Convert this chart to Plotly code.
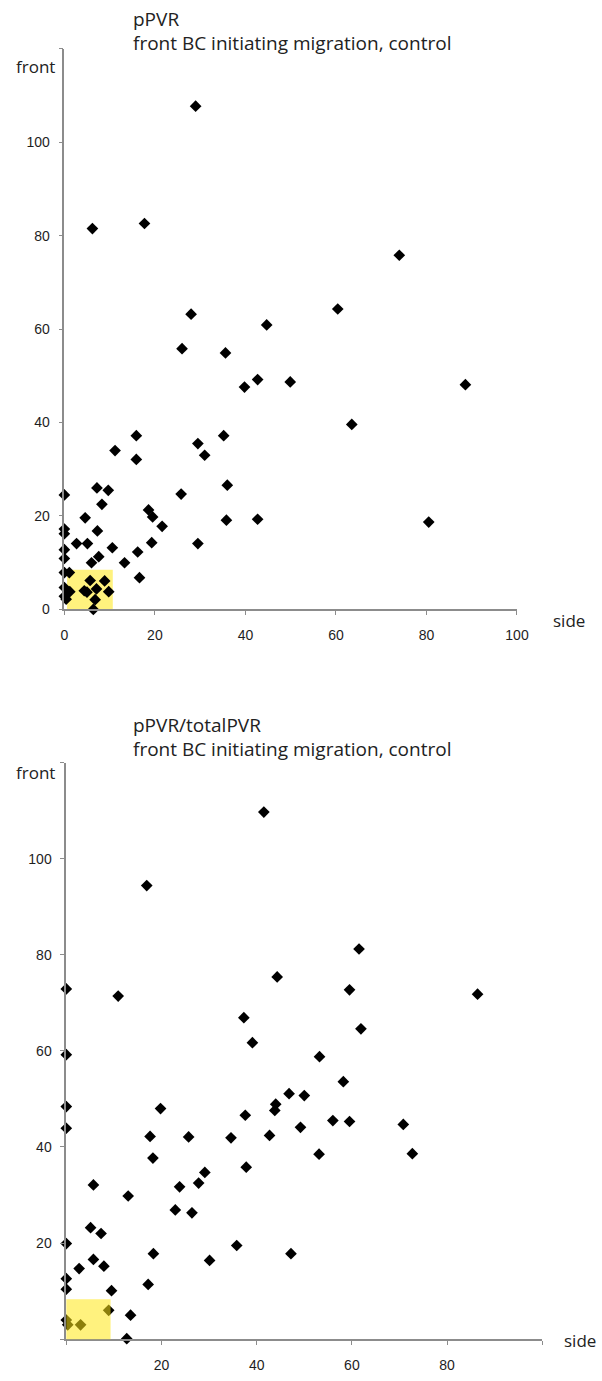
import plotly.graph_objects as go

# ---- Data: chart 1 (pPVR) ----
side_1 = [29.0, 6.2, 17.7, 28.0, 74.0, 60.4, 44.7, 26.0, 35.6, 42.7, 39.8, 49.9, 88.6, 63.5, 80.5,
          15.9, 35.2, 11.2, 29.5, 15.9, 31.0, 25.8, 36.0, 0.0, 7.2, 9.7, 8.3, 4.6, 18.6, 19.5,
          35.8, 42.7, 0.0, 0.0, 7.3, 21.6, 2.7, 5.1, 19.3, 29.5, 0.0, 10.6, 16.2, 7.6, 0.0,
          6.0, 13.3, 0.0, 1.1, 16.6, 5.7, 8.9, 0.0, 4.4, 7.1, 1.2, 9.8, 5.0, 0.0, 0.4, 6.8, 6.4]
front_1 = [107.7, 81.5, 82.6, 63.2, 75.8, 64.3, 60.9, 55.8, 54.9, 49.2, 47.6, 48.7, 48.1, 39.6, 18.7,
           37.2, 37.2, 34.0, 35.5, 32.1, 33.0, 24.7, 26.6, 24.5, 26.0, 25.5, 22.5, 19.6, 21.3, 19.8,
           19.1, 19.3, 17.2, 16.2, 16.8, 17.8, 14.1, 14.1, 14.3, 14.1, 12.8, 13.2, 12.3, 11.3, 10.9,
           10.0, 10.0, 7.9, 7.9, 6.8, 6.2, 6.1, 4.7, 4.0, 4.4, 3.8, 3.8, 3.7, 2.8, 2.2, 2.1, 0.0]

# ---- Data: chart 2 (pPVR/totalPVR) ----
side_2 = [41.5, 16.9, 44.3, 0.0, 10.9, 61.5, 59.5, 86.4, 37.3, 39.1, 0.0, 46.8, 0.0, 44.0, 43.8,
          19.8, 37.6, 0.0, 17.6, 25.7, 34.6, 42.7, 18.2, 37.8, 29.1, 27.8, 23.8, 5.7, 13.0, 22.9,
          26.4, 5.1, 7.3, 0.0, 35.8, 18.3, 47.2, 5.7, 30.1, 7.9, 2.7, 0.0, 17.2, 0.0, 9.5,
          8.9, 13.5, 0.0, 0.3, 3.0, 12.7, 61.9, 53.2, 58.2, 50.0, 56.0, 59.5, 49.2, 70.8, 53.1, 72.7]
front_2 = [109.7, 94.4, 75.4, 72.9, 71.4, 81.2, 72.7, 71.8, 66.9, 61.7, 59.2, 51.1, 48.4, 48.9, 47.6,
           48.0, 46.6, 43.9, 42.2, 42.1, 41.9, 42.4, 37.7, 35.8, 34.7, 32.5, 31.7, 32.1, 29.8, 26.9,
           26.3, 23.2, 22.0, 19.9, 19.5, 17.8, 17.8, 16.6, 16.4, 15.2, 14.7, 12.6, 11.4, 10.4, 10.1,
           6.0, 5.0, 4.0, 3.0, 3.0, 0.1, 64.6, 58.8, 53.6, 50.7, 45.5, 45.3, 44.1, 44.7, 38.5, 38.6]

tick_vals = [0, 20, 40, 60, 80, 100, 120]
x1_text = ["0", "20", "40", "60", "80", "100"]
y1_text = ["0", "20", "40", "60", "80", "100", ""]
x2_text = ["", "20", "40", "60", "80", ""]
y2_text = ["", "20", "40", "60", "80", "100", ""]

titles_1 = ["pPVR", "front BC initiating migration, control"]
titles_2 = ["pPVR/totalPVR", "front BC initiating migration, control"]

W, H = 602, 1381
AX = "#8c8c8c"
TICKFONT = dict(family="Liberation Sans, Arial", size=14, color="#1e1e1e")
TITLEFONT = dict(family="Open Sans", size=19, color="#222222")
LABELFONT = dict(family="Open Sans", size=17, color="#222222")

def px_x(p):
    return p / W

def px_y(p):
    return 1 - p / H

fig = go.Figure()
marker = dict(symbol="diamond", size=9, color="black", line=dict(width=0))
fig.add_trace(go.Scatter(x=side_1, y=front_1, mode="markers", marker=marker,
                         xaxis="x", yaxis="y", cliponaxis=False))
fig.add_trace(go.Scatter(x=side_2, y=front_2, mode="markers", marker=marker,
                         xaxis="x2", yaxis="y2", cliponaxis=False))

axis_common = dict(showgrid=False, zeroline=False, showline=True, linecolor=AX, linewidth=1.6,
                   ticks="outside", ticklen=4, tickwidth=1.2, tickcolor=AX, tickfont=TICKFONT,
                   tickmode="array", fixedrange=True)

fig.update_layout(
    width=W, height=H, margin=dict(l=0, r=0, t=0, b=0),
    paper_bgcolor="white", plot_bgcolor="white", showlegend=False,
    xaxis=dict(domain=[px_x(62), px_x(527)], range=[0, 100], anchor="y",
               tickvals=tick_vals[:6], ticktext=x1_text, ticklabelstandoff=8, **axis_common),
    yaxis=dict(domain=[px_y(613), px_y(49)], range=[0, 120], anchor="x",
               tickvals=tick_vals, ticktext=y1_text, ticklabelstandoff=6, **axis_common),
    xaxis2=dict(domain=[px_x(64), px_x(553)], range=[0, 100], anchor="y2",
                tickvals=tick_vals[:6], ticktext=x2_text, ticklabelstandoff=8, **axis_common),
    yaxis2=dict(domain=[px_y(1347), px_y(767)], range=[0, 120], anchor="x2",
                tickvals=tick_vals, ticktext=y2_text, ticklabelstandoff=6, **axis_common),
)

# highlight boxes
fig.add_shape(type="rect", xref="x", yref="y", x0=0.6, x1=10.7, y0=0, y1=8.5,
              fillcolor="#fff27e", line=dict(width=0), layer="below")
fig.add_shape(type="rect", xref="x2", yref="y2", x0=-0.4, x1=9.3, y0=-0.2, y1=8.3,
              fillcolor="rgba(255,232,20,0.55)", line=dict(width=0), layer="above")

annots = []
def txt(x, y, s, font, xanchor="left"):
    annots.append(dict(x=px_x(x), y=px_y(y), xref="paper", yref="paper", text=s,
                       showarrow=False, xanchor=xanchor, yanchor="middle", font=font))

txt(130, 19, titles_1[0], TITLEFONT)
txt(130, 43, titles_1[1], TITLEFONT)
txt(54, 67, "front", LABELFONT, "right")
txt(562, 624, "side", LABELFONT)

txt(130, 729, titles_2[0], TITLEFONT)
txt(130, 753, titles_2[1], TITLEFONT)
txt(54, 777, "front", LABELFONT, "right")
txt(573, 1348, "side", LABELFONT)

fig.update_layout(annotations=annots)
fig.write_html("out.html", config={"displayModeBar": False},
               post_script="document.body.style.margin='0';document.body.style.overflow='hidden';")
